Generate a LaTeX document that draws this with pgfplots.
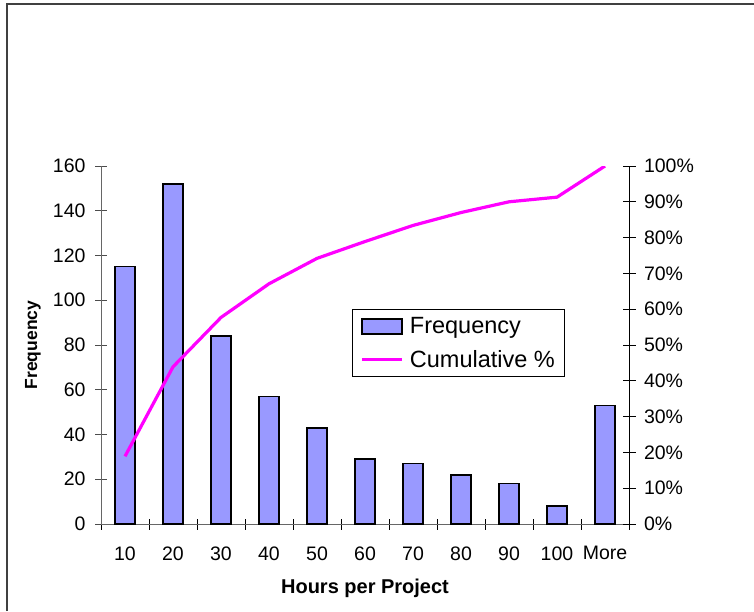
\documentclass[border=0pt]{standalone}
\usepackage{pgfplots}
\pgfplotsset{compat=1.18}
\usepackage{fontspec}
\setmainfont{Liberation Sans}
\definecolor{barblue}{HTML}{9999FF}
\definecolor{mag}{HTML}{FF00FF}
\pgfplotsset{
  mybarleg/.style={legend image code/.code={\path[draw=none,fill=none] (0pt,0pt) -- (46pt,0pt); \draw[##1] (0pt,-7.5pt) rectangle (40pt,7.5pt);}},
  mylineleg/.style={legend image code/.code={\path[draw=none,fill=none] (0pt,0pt) -- (46pt,0pt); \draw[##1] (0pt,0pt) -- (40pt,0pt);}},
}
\begin{document}
\begin{tikzpicture}[x=1pt,y=1pt]
\useasboundingbox (0,0) rectangle (754,-611);
\draw[line width=2pt, color=black!75] (7,-611) -- (7,-4) -- (754,-4);
\begin{axis}[
  at={(101pt,-524pt)}, anchor=south west,
  width=528pt, height=358pt, scale only axis,
  xmin=-0.5, xmax=10.5, ymin=0, ymax=160,
  axis y line*=left, axis x line*=bottom,
  axis line style={line width=1pt, color=black!60},
  xtick={0,1,2,3,4,5,6,7,8,9,10},
  xticklabels={10,20,30,40,50,60,70,80,90,100,More},
  major x tick style={draw=none},
  minor xtick={-0.5,0.5,1.5,2.5,3.5,4.5,5.5,6.5,7.5,8.5,9.5,10.5},
  minor x tick style={line width=1pt, color=black},
  minor tick length=11pt,
  ytick={0,20,40,60,80,100,120,140,160},
  yticklabels={0,20,40,60,80,100,120,140,160},
  y tick style={line width=1pt, color=black!70},
  tick align=center, major tick length=12pt,
  ticklabel style={font=\fontsize{19.5}{23}\selectfont},
  xticklabel style={yshift=-13pt},
  yticklabel style={xshift=-6pt},
  xlabel={\bfseries Hours per Project},
  xlabel style={font=\fontsize{20}{24}\selectfont, at={(axis description cs:0.5,-0.1927)}, anchor=base},
  ylabel={\bfseries Frequency},
  ylabel style={font=\fontsize{17.5}{20}\selectfont, at={(axis description cs:-0.1288,0.5)}, anchor=center},
]
\addplot[ybar, bar width=20pt, fill=barblue, draw=black, line width=1.5pt] coordinates {
(0,115) (1,152) (2,84) (3,57) (4,43) (5,29) (6,27) (7,22) (8,18) (9,8) (10,53)};
\end{axis}
\begin{axis}[
  at={(101pt,-524pt)}, anchor=south west,
  width=528pt, height=358pt, scale only axis,
  xmin=-0.5, xmax=10.5, ymin=0, ymax=100,
  axis y line*=right, axis x line=none,
  axis line style={line width=1pt, color=black},
  ytick={0,10,20,30,40,50,60,70,80,90,100},
  yticklabels={0\%,10\%,20\%,30\%,40\%,50\%,60\%,70\%,80\%,90\%,100\%},
  y tick style={line width=1pt, color=black},
  tick align=center, major tick length=13pt,
  ticklabel style={font=\fontsize{19.5}{23}\selectfont},
  yticklabel style={xshift=5pt},
  legend style={at={(rel axis cs:0.475,0.6006)}, anchor=north west, draw=black, line width=1pt,
    font=\fontsize{23.5}{28}\selectfont, inner xsep=8pt, inner ysep=6pt, row sep=11pt},
  legend cell align=left,
]
\addlegendimage{mybarleg, fill=barblue, draw=black, line width=1.5pt}
\addlegendentry{Frequency}
\addplot[mylineleg, mag, line width=3.2pt, mark=none] coordinates {
(0,18.9) (1,43.9) (2,57.7) (3,67.1) (4,74.2) (5,78.9) (6,83.4) (7,87.0) (8,90.0) (9,91.3) (10,100)};
\addlegendentry{Cumulative \%}
\end{axis}
\end{tikzpicture}
\end{document}
